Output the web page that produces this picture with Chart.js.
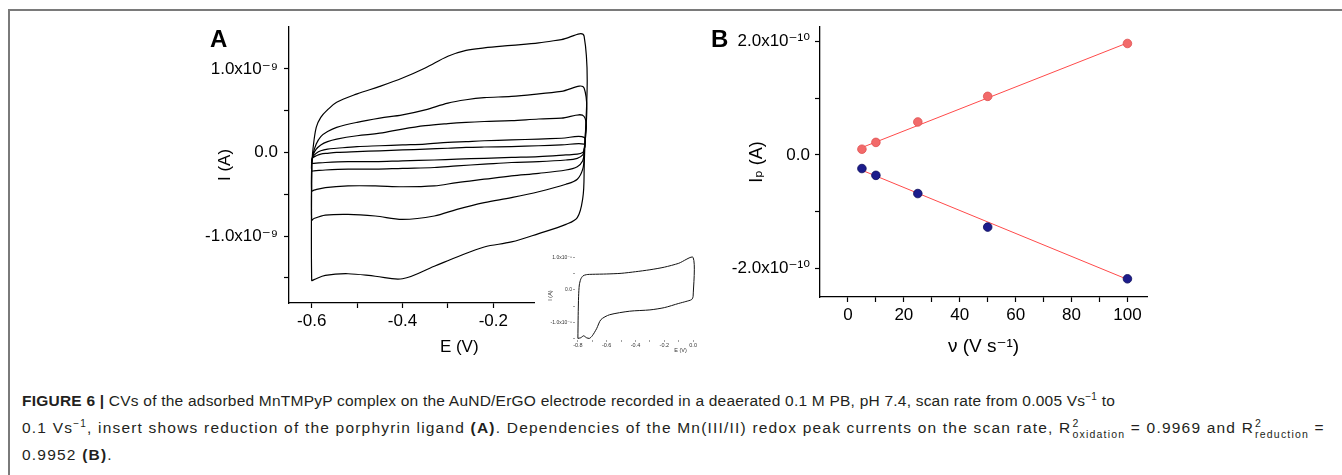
<!DOCTYPE html>
<html>
<head>
<meta charset="utf-8">
<script src="https://cdn.jsdelivr.net/npm/chart.js@4.4.1/dist/chart.umd.min.js"></script>
<style>
  body { margin: 0; width: 1342px; height: 475px; position: relative; background: #fff; overflow: hidden; font-family: 'Liberation Sans', 'DejaVu Sans', sans-serif; }
  #frame { position: absolute; left: 8px; top: 9px; right: -4px; bottom: -4px; border-top: 2px solid #7a7a7a; border-left: 2px solid #7a7a7a; }
  canvas { position: absolute; }
  .plabel { position: absolute; font: bold 24px 'Liberation Sans', sans-serif; line-height: 24px; color: #000; }
  #caption { position: absolute; left: 22px; top: 387px; font-size: 15.5px; line-height: 27px; color: #231f20; white-space: nowrap; }
  #caption sup { font-size: 10px; line-height: 0; vertical-align: 6px; }
  .l1 { letter-spacing: 0.22px; }
  .l2, .l3 { letter-spacing: 1.2px; }
  .ss { display: inline-block; font-size: 10.5px; line-height: 11px; vertical-align: -5px; margin-left: 1px; }
  .ss span { display: block; }
</style>
</head>
<body>
<div id="frame"></div>

<canvas id="chartA" width="450" height="350" style="left:190px; top:15px;"></canvas>
<canvas id="chartB" width="460" height="350" style="left:700px; top:15px;"></canvas>
<canvas id="chartIn" width="185" height="120" style="left:535px; top:245px; background:#fff;"></canvas>

<div class="plabel" style="left:210px; top:27px;">A</div>
<div class="plabel" style="left:711px; top:27px;">B</div>

<div id="caption"><span class="l1"><b>FIGURE 6 |</b> CVs of the adsorbed MnTMPyP complex on the AuND/ErGO electrode recorded in a deaerated 0.1 M PB, pH 7.4, scan rate from 0.005 Vs<sup>−1</sup> to</span><br><span class="l2">0.1 Vs<sup>−1</sup>, insert shows reduction of the porphyrin ligand <b>(A)</b>. Dependencies of the Mn(III/II) redox peak currents on the scan rate, R<span class="ss"><span>2</span><span>oxidation</span></span> = 0.9969 and R<span class="ss"><span>2</span><span>reduction</span></span> =</span><br><span class="l3">0.9952 <b>(B)</b>.</span></div>

<script>
// ---- panel A: CV loops, current in units of 1e-9 A ----
// potential path: forward sweep, reverse sweep, then back to start
const ePath = [-0.600, -0.597, -0.590, -0.580, -0.565, -0.545, -0.500, -0.450, -0.400, -0.350, -0.300, -0.260, -0.220, -0.160, -0.100, -0.050, 0.000,
               0.000, -0.003, -0.015, -0.040, -0.100, -0.160, -0.220, -0.280, -0.330, -0.400, -0.460, -0.520, -0.570, -0.595, -0.600,
               -0.600];
const cv5   = [-0.09, -0.06, -0.04, -0.02, -0.01, 0.00, 0.01, 0.02, 0.03, 0.04, 0.05, 0.06, 0.065, 0.07, 0.08, 0.09, 0.10,
               0.03, 0.00, -0.02, -0.03, -0.05, -0.06, -0.07, -0.08, -0.09, -0.10, -0.11, -0.11, -0.12, -0.13, -0.13,
               -0.09];
const cv10  = [-0.10, -0.05, -0.01, 0.02, 0.04, 0.05, 0.07, 0.08, 0.09, 0.10, 0.12, 0.13, 0.14, 0.15, 0.16, 0.17, 0.18,
               0.02, -0.03, -0.07, -0.09, -0.11, -0.12, -0.14, -0.16, -0.18, -0.19, -0.20, -0.20, -0.21, -0.22, -0.22,
               -0.10];
const cv25  = [-0.12, -0.03, 0.04, 0.09, 0.13, 0.16, 0.20, 0.23, 0.28, 0.32, 0.345, 0.36, 0.37, 0.38, 0.40, 0.41, 0.43,
               0.00, -0.10, -0.17, -0.21, -0.25, -0.28, -0.32, -0.36, -0.40, -0.41, -0.40, -0.40, -0.42, -0.45, -0.46,
               -0.12];
const cv50  = [-0.15, -0.02, 0.10, 0.19, 0.25, 0.30, 0.36, 0.41, 0.45, 0.51, 0.59, 0.63, 0.655, 0.67, 0.70, 0.73, 0.77,
               -0.05, -0.20, -0.32, -0.38, -0.47, -0.54, -0.60, -0.68, -0.76, -0.80, -0.76, -0.74, -0.75, -0.79, -0.81,
               -0.15];
const cv100 = [-0.15, 0.05, 0.30, 0.42, 0.51, 0.60, 0.70, 0.79, 0.89, 1.01, 1.15, 1.22, 1.25, 1.28, 1.31, 1.35, 1.39,
               -0.25, -0.55, -0.78, -0.86, -0.97, -1.07, -1.13, -1.25, -1.36, -1.51, -1.48, -1.45, -1.47, -1.52, -1.53,
               -0.15];

const xTicksA  = [-0.6, -0.5, -0.4, -0.3, -0.2, -0.1, 0.0];
const xLabelsA = ['-0.6', '', '-0.4', '', '-0.2', '', '0.0'];
const yTicksA  = [-1.5, -1.0, -0.5, 0.0, 0.5, 1.0];
const yLabelsA = ['', '-1.0x10⁻⁹', '', '0.0', '', '1.0x10⁻⁹'];

// ---- inset: ligand reduction CV, current in units of 1e-8 A ----
const insetE = [-0.800, -0.798, -0.795, -0.790, -0.780, -0.765, -0.740, -0.700, -0.600, -0.500, -0.400, -0.300, -0.200, -0.100, 0.000,
                0.000, -0.010, -0.050, -0.100, -0.200, -0.300, -0.440, -0.580, -0.640, -0.670, -0.700, -0.720, -0.740, -0.760, -0.780, -0.800];
const insetI = [-1.50, -0.80, -0.20, 0.15, 0.33, 0.43, 0.47, 0.48, 0.49, 0.51, 0.56, 0.62, 0.70, 0.82, 1.00,
                -0.20, -0.30, -0.36, -0.42, -0.55, -0.62, -0.66, -0.77, -0.92, -1.20, -1.42, -1.50, -1.48, -1.42, -1.48, -1.50];
const xTicksIn  = [-0.8, -0.7, -0.6, -0.5, -0.4, -0.3, -0.2, -0.1, 0.0];
const xLabelsIn = ['-0.8', '', '-0.6', '', '-0.4', '', '-0.2', '', '0.0'];
const yTicksIn  = [-1.5, -1.0, -0.5, 0.0, 0.5, 1.0];
const yLabelsIn = ['', '-1.0x10⁻⁸', '', '0.0', '', '1.0x10⁻⁸'];

// ---- panel B: peak current vs scan rate, current in units of 1e-10 A ----
const scanRates = [5, 10, 25, 50, 100];
const oxPeak    = [0.10, 0.22, 0.58, 1.03, 1.96];
const redPeak   = [-0.24, -0.36, -0.68, -1.27, -2.18];
const fitX      = [5, 100];
const fitOx     = [0.13, 1.97];
const fitRed    = [-0.27, -2.19];

const xTicksB  = [0, 10, 20, 30, 40, 50, 60, 70, 80, 90, 100];
const xLabelsB = ['0', '', '20', '', '40', '', '60', '', '80', '', '100'];
const yTicksB  = [-2, -1, 0, 1, 2];
const yLabelsB = ['-2.0x10⁻¹⁰', '', '0.0', '', '2.0x10⁻¹⁰'];

Chart.defaults.font.family = "'Liberation Sans', 'DejaVu Sans', sans-serif";
Chart.defaults.color = '#000';

const pts = (xs, ys) => xs.map((x, i) => ({ x: x, y: ys[i] }));

// axis helper: fixed ticks, fixed thickness, outward ticks, no grid
function axis(o) {
  return {
    type: 'linear',
    min: o.min, max: o.max,
    afterBuildTicks: s => { s.ticks = o.ticks.map(v => ({ value: v })); },
    afterFit: s => {
      if (o.width) s.width = o.width;
      if (o.height) s.height = o.height;
      s.paddingLeft = 0; s.paddingRight = 0; s.paddingTop = 0; s.paddingBottom = 0;
    },
    ticks: {
      autoSkip: false, maxRotation: 0, padding: o.pad,
      color: o.labelColor || '#000',
      font: { size: o.fontSize },
      callback: (v, i) => o.labels[i]
    },
    grid: { drawOnChartArea: false, tickLength: o.tickLen, tickColor: o.tickColor || '#000', tickWidth: o.tickWidth || 1.2 },
    border: { display: o.border !== false, color: '#000', width: 1.3 },
    title: { display: true, text: o.title, color: o.labelColor || '#000', font: { size: o.titleSize }, padding: o.titlePad, align: o.titleAlign || 'center' }
  };
}

const noPlugins = { legend: { display: false }, tooltip: { enabled: false } };

// panel A
new Chart(document.getElementById('chartA'), {
  type: 'scatter',
  data: {
    datasets: [cv5, cv10, cv25, cv50, cv100].map(c => ({
      data: pts(ePath, c), showLine: true, borderColor: '#000', borderWidth: 1.2,
      pointRadius: 0, tension: 0.35, fill: false
    }))
  },
  options: {
    responsive: false, animation: false, events: [],
    layout: { padding: { top: 12, right: 10.5, bottom: 0, left: 0 } },
    plugins: noPlugins,
    scales: {
      x: axis({ min: -0.65, max: 0.1, ticks: xTicksA, labels: xLabelsA, height: 62, pad: 3, fontSize: 17, tickLen: 5,
                title: 'E (V)', titleSize: 17, titlePad: { top: 0, bottom: 7 } }),
      y: axis({ min: -1.8, max: 1.5, ticks: yTicksA, labels: yLabelsA, width: 99, pad: 6, fontSize: 17, tickLen: 5,
                title: 'I (A)', titleSize: 17, titlePad: { top: 25, bottom: 0 } })
    }
  }
});

// inset of panel A
new Chart(document.getElementById('chartIn'), {
  type: 'scatter',
  data: {
    datasets: [{
      data: pts(insetE, insetI), showLine: true, borderColor: '#111', borderWidth: 1,
      pointRadius: 0, tension: 0.25, fill: false
    }]
  },
  options: {
    responsive: false, animation: false, events: [],
    layout: { padding: { top: 6, right: 24, bottom: 0, left: 0 } },
    plugins: noPlugins,
    scales: {
      x: axis({ min: -0.82, max: 0.02, ticks: xTicksIn, labels: xLabelsIn, height: 25, pad: 0, fontSize: 5.5, tickLen: 2,
                tickColor: '#888', tickWidth: 0.8, border: false, labelColor: '#333',
                title: 'E (V)      ', titleSize: 5.5, titlePad: { top: 0, bottom: 11 }, titleAlign: 'end' }),
      y: axis({ min: -1.55, max: 1.2, ticks: yTicksIn, labels: yLabelsIn, width: 40, pad: 1, fontSize: 5, tickLen: 2,
                tickColor: '#888', tickWidth: 0.8, border: false, labelColor: '#333',
                title: 'I (A)', titleSize: 5.5, titlePad: { top: 11.7, bottom: 0 } })
    }
  }
});

// panel B
new Chart(document.getElementById('chartB'), {
  type: 'scatter',
  data: {
    datasets: [
      { data: pts(scanRates, oxPeak), pointRadius: 4.3, backgroundColor: '#f26a6a', borderColor: '#e05050', borderWidth: 0.8, order: 0 },
      { data: pts(scanRates, redPeak), pointRadius: 4.3, backgroundColor: '#1c1c8c', borderColor: '#0c0c5a', borderWidth: 0.8, order: 0 },
      { data: pts(fitX, fitOx), showLine: true, pointRadius: 0, borderColor: '#ff4a4a', borderWidth: 1, order: 1 },
      { data: pts(fitX, fitRed), showLine: true, pointRadius: 0, borderColor: '#ff4a4a', borderWidth: 1, order: 1 }
    ]
  },
  options: {
    responsive: false, animation: false, events: [],
    layout: { padding: { top: 12, right: 13, bottom: 0, left: 0 } },
    plugins: noPlugins,
    scales: {
      x: axis({ min: -10, max: 107, ticks: xTicksB, labels: xLabelsB, height: 68, pad: 3, fontSize: 17, tickLen: 5,
                title: 'ν (V s⁻¹)', titleSize: 19, titlePad: { top: 0, bottom: 7 } }),
      y: axis({ min: -2.5, max: 2.25, ticks: yTicksB, labels: yLabelsB, width: 120, pad: 5, fontSize: 17, tickLen: 5,
                title: 'Iₚ (A)', titleSize: 18, titlePad: { top: 46, bottom: 0 } })
    }
  }
});
</script>
</body>
</html>
